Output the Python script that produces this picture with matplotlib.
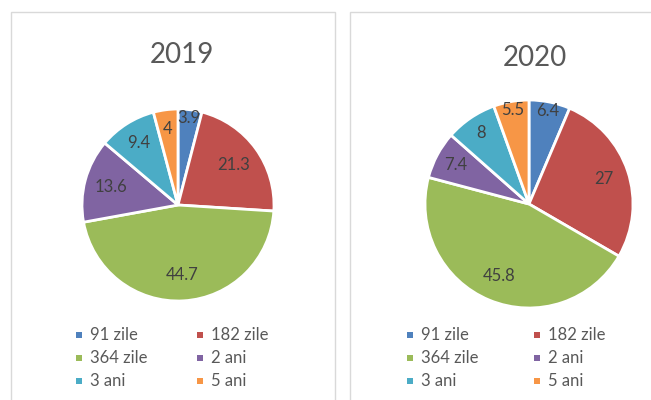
import matplotlib
matplotlib.use("Agg")
import matplotlib.pyplot as plt
from matplotlib.patches import Rectangle
import numpy as np

categories = ["91 zile", "182 zile", "364 zile", "2 ani", "3 ani", "5 ani"]
values_2019 = [3.9, 21.3, 44.7, 13.6, 9.4, 4]
values_2020 = [6.4, 27, 45.8, 7.4, 8, 5.5]
titles = ["2019", "2020"]
colors = ["#4F81BD", "#C0504D", "#9BBB59", "#8064A2", "#4BACC6", "#F79646"]

# label radial factors (style)
label_r_2019 = [0.91, 0.71, 0.73, 0.72, 0.76, 0.80]
label_r_2020 = [0.91, 0.76, 0.75, 0.80, 0.82, 0.92]

W, H = 651, 400
fig = plt.figure(figsize=(W / 100, H / 100), dpi=100)
plt.rcParams['font.family'] = ['Lato', 'DejaVu Sans']

def px(x, y):
    return x / W, 1 - y / H

# panel borders
for (x0, x1) in [(11, 335), (350, 670)]:
    fig.add_artist(Rectangle((x0 / W, -0.05), (x1 - x0) / W, 1.05 - 12 / H,
                             transform=fig.transFigure, fill=False,
                             edgecolor="#D9D9D9", linewidth=1.0))

panels = [
    dict(vals=values_2019, lr=label_r_2019, cx=178, cy=205, r=96, title=titles[0],
         tx=182, ty=55, legx=(79, 200)),
    dict(vals=values_2020, lr=label_r_2020, cx=529, cy=204, r=104, title=titles[1],
         tx=535, ty=58, legx=(410, 537)),
]

for p in panels:
    cx, cy, r = p["cx"], p["cy"], p["r"]
    l, b = px(cx - r, cy + r)
    ax = fig.add_axes([l, b, 2 * r / W, 2 * r / H])
    wedges, _ = ax.pie(p["vals"], colors=colors, startangle=90, counterclock=False,
                       radius=1.0, wedgeprops=dict(edgecolor="white", linewidth=2))
    ax.set_xlim(-1, 1)
    ax.set_ylim(-1, 1)
    ax.axis("off")
    for w, v, f in zip(wedges, p["vals"], p["lr"]):
        ang = np.deg2rad((w.theta1 + w.theta2) / 2)
        ax.text(f * np.cos(ang), f * np.sin(ang), f"{v:g}", ha="center", va="center",
                fontsize=12, color="#404040")
    for w in wedges:
        w.set_clip_on(False)
    tx, ty = px(p["tx"], p["ty"])
    fig.text(tx, ty, p["title"], ha="center", va="center", fontsize=20, color="#595959")
    # legend
    rows_y = [335, 358, 381]
    for i, (cat, col) in enumerate(zip(categories, colors)):
        row, c = divmod(i, 2)
        mx = p["legx"][c]
        my = rows_y[row]
        fig.add_artist(Rectangle(((mx - 3) / W, 1 - (my + 3) / H), 6 / W, 6 / H,
                                 transform=fig.transFigure, facecolor=col, edgecolor="none"))
        fig.text((mx + 11) / W, 1 - my / H, cat, ha="left", va="center",
                 fontsize=12, color="#595959")

fig.savefig("out.png", dpi=100, facecolor="white")
